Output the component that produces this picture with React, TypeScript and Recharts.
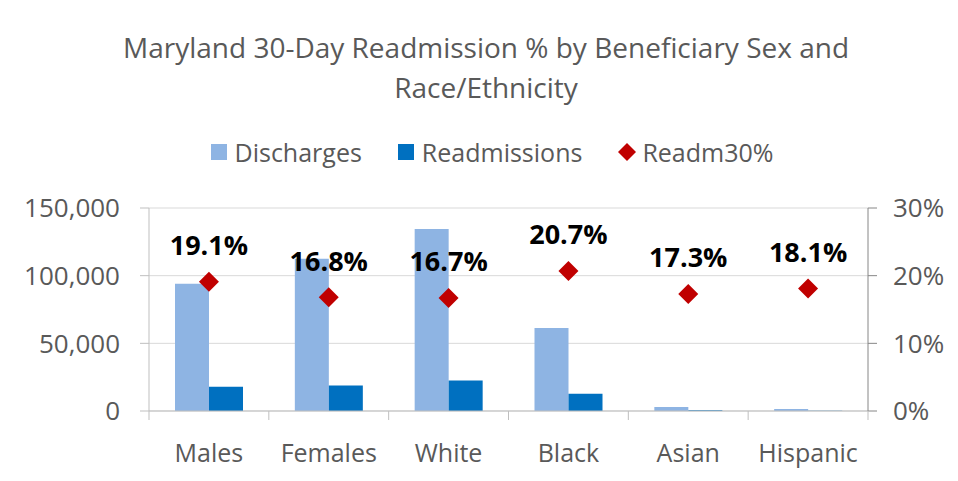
import React from 'react';
import { ComposedChart, Bar, Line, XAxis, YAxis, CartesianGrid, LabelList } from 'recharts';

const categories = ['Males', 'Females', 'White', 'Black', 'Asian', 'Hispanic'];
const discharges = [94000, 112500, 134500, 61300, 3000, 1500];
const readmissions = [17950, 18900, 22460, 12690, 520, 270];
const readmPct = [19.1, 16.8, 16.7, 20.7, 17.3, 18.1];
const leftTicks = [0, 50000, 100000, 150000];
const rightTicks = [0, 10, 20, 30];
const seriesNames = ['Discharges', 'Readmissions', 'Readm30%'];
const titleLines = ['Maryland 30-Day Readmission % by Beneficiary Sex and', 'Race/Ethnicity'];

const data = categories.map((c, i) => ({
  name: c,
  discharges: discharges[i],
  readmissions: readmissions[i],
  pct: readmPct[i],
}));

const FONT = "'Open Sans', 'Noto Sans', sans-serif";
const TEXT = '#595959';
const C_DIS = '#8eb4e3';
const C_READ = '#0070c0';
const C_PCT = '#c00000';

const XTick = (props: any) => {
  const { x, y, payload, index } = props;
  const off = payload.offset || 0;
  return (
    <g>
      <line x1={x - off} x2={x - off} y1={411} y2={420} stroke="#bfbfbf" />
      {index === categories.length - 1 && (
        <line x1={x + off} x2={x + off} y1={411} y2={420} stroke="#bfbfbf" />
      )}
      <text x={x} y={y} textAnchor="middle" dominantBaseline="central" fill={TEXT} fontSize={25} fontFamily={FONT}>
        {payload.value}
      </text>
    </g>
  );
};

const Diamond = (props: any) => {
  const { cx, cy } = props;
  if (cx == null || cy == null) return null;
  const r = 10;
  return <polygon points={`${cx},${cy - r} ${cx + r},${cy} ${cx},${cy + r} ${cx - r},${cy}`} fill={C_PCT} />;
};

const PctLabel = (props: any) => {
  const { x, y, value } = props;
  return (
    <text x={x} y={y - 37} textAnchor="middle" dominantBaseline="central" fill="#000" fontSize={27} fontWeight="bold" fontFamily={FONT}>
      {`${Number(value).toFixed(1)}%`}
    </text>
  );
};

export default function App() {
  return (
    <div style={{ position: 'relative', width: 958, height: 481, marginLeft: -8, marginTop: -8, overflow: 'hidden', background: '#fff' }}>
      <div style={{ position: 'absolute', left: 0, top: 27, width: 972, textAlign: 'center', fontFamily: FONT, fontSize: 28, color: TEXT, lineHeight: '40px' }}>
        {titleLines.map((t) => (
          <div key={t}>{t}</div>
        ))}
      </div>
      <div style={{ position: 'absolute', left: 0, top: 135, width: 984, display: 'flex', justifyContent: 'center', alignItems: 'center', fontFamily: FONT, fontSize: 25, color: TEXT }}>
        {seriesNames.map((n, i) => (
          <div key={n} style={{ display: 'flex', alignItems: 'center', marginRight: i < 2 ? 36 : 0 }}>
            {i < 2 ? (
              <div style={{ width: 16, height: 16, background: i === 0 ? C_DIS : C_READ, marginRight: 8 }} />
            ) : (
              <svg width={18} height={18} style={{ marginRight: 6 }}>
                <polygon points="9,0 18,9 9,18 0,9" fill={C_PCT} />
              </svg>
            )}
            <span>{n}</span>
          </div>
        ))}
      </div>
      <div style={{ position: 'absolute', left: 0, top: 0 }}>
        <ComposedChart width={958} height={481} data={data} margin={{ top: 208, right: 0, bottom: 0, left: 0 }} barGap={0} barSize={34}>
          <CartesianGrid vertical={false} stroke="#d9d9d9" yAxisId="left" />
          <XAxis dataKey="name" height={70} tickLine={false} axisLine={{ stroke: '#bfbfbf' }} tick={<XTick />} tickSize={0} tickMargin={41} interval={0} />
          <YAxis yAxisId="left" orientation="left" width={149} domain={[0, 150000]} ticks={leftTicks}
            tickFormatter={(v: number) => v.toLocaleString('en-US')}
            axisLine={{ stroke: '#bfbfbf' }} tickLine={{ stroke: '#bfbfbf' }} tickSize={9} tickMargin={20}
            tick={{ fill: TEXT, fontSize: 26, fontFamily: FONT }} />
          <YAxis yAxisId="right" orientation="right" width={90} domain={[0, 30]} ticks={rightTicks}
            tickFormatter={(v: number) => `${v}%`}
            axisLine={{ stroke: '#868686' }} tickLine={{ stroke: '#868686' }} tickSize={9} tickMargin={16}
            tick={{ fill: TEXT, fontSize: 26, fontFamily: FONT }} />
          <Bar yAxisId="left" dataKey="discharges" fill={C_DIS} isAnimationActive={false} />
          <Bar yAxisId="left" dataKey="readmissions" fill={C_READ} isAnimationActive={false} />
          <Line yAxisId="right" dataKey="pct" stroke="none" dot={<Diamond />} activeDot={false} isAnimationActive={false}>
            <LabelList dataKey="pct" content={<PctLabel />} />
          </Line>
        </ComposedChart>
      </div>
      <div style={{ position: 'absolute', left: 6, top: 6, width: 2, height: 480, background: '#8a8a8a', zIndex: 5 }} />
      <div style={{ position: 'absolute', left: 6, top: 6, width: 960, height: 2, background: '#8a8a8a', zIndex: 5 }} />
    </div>
  );
}
